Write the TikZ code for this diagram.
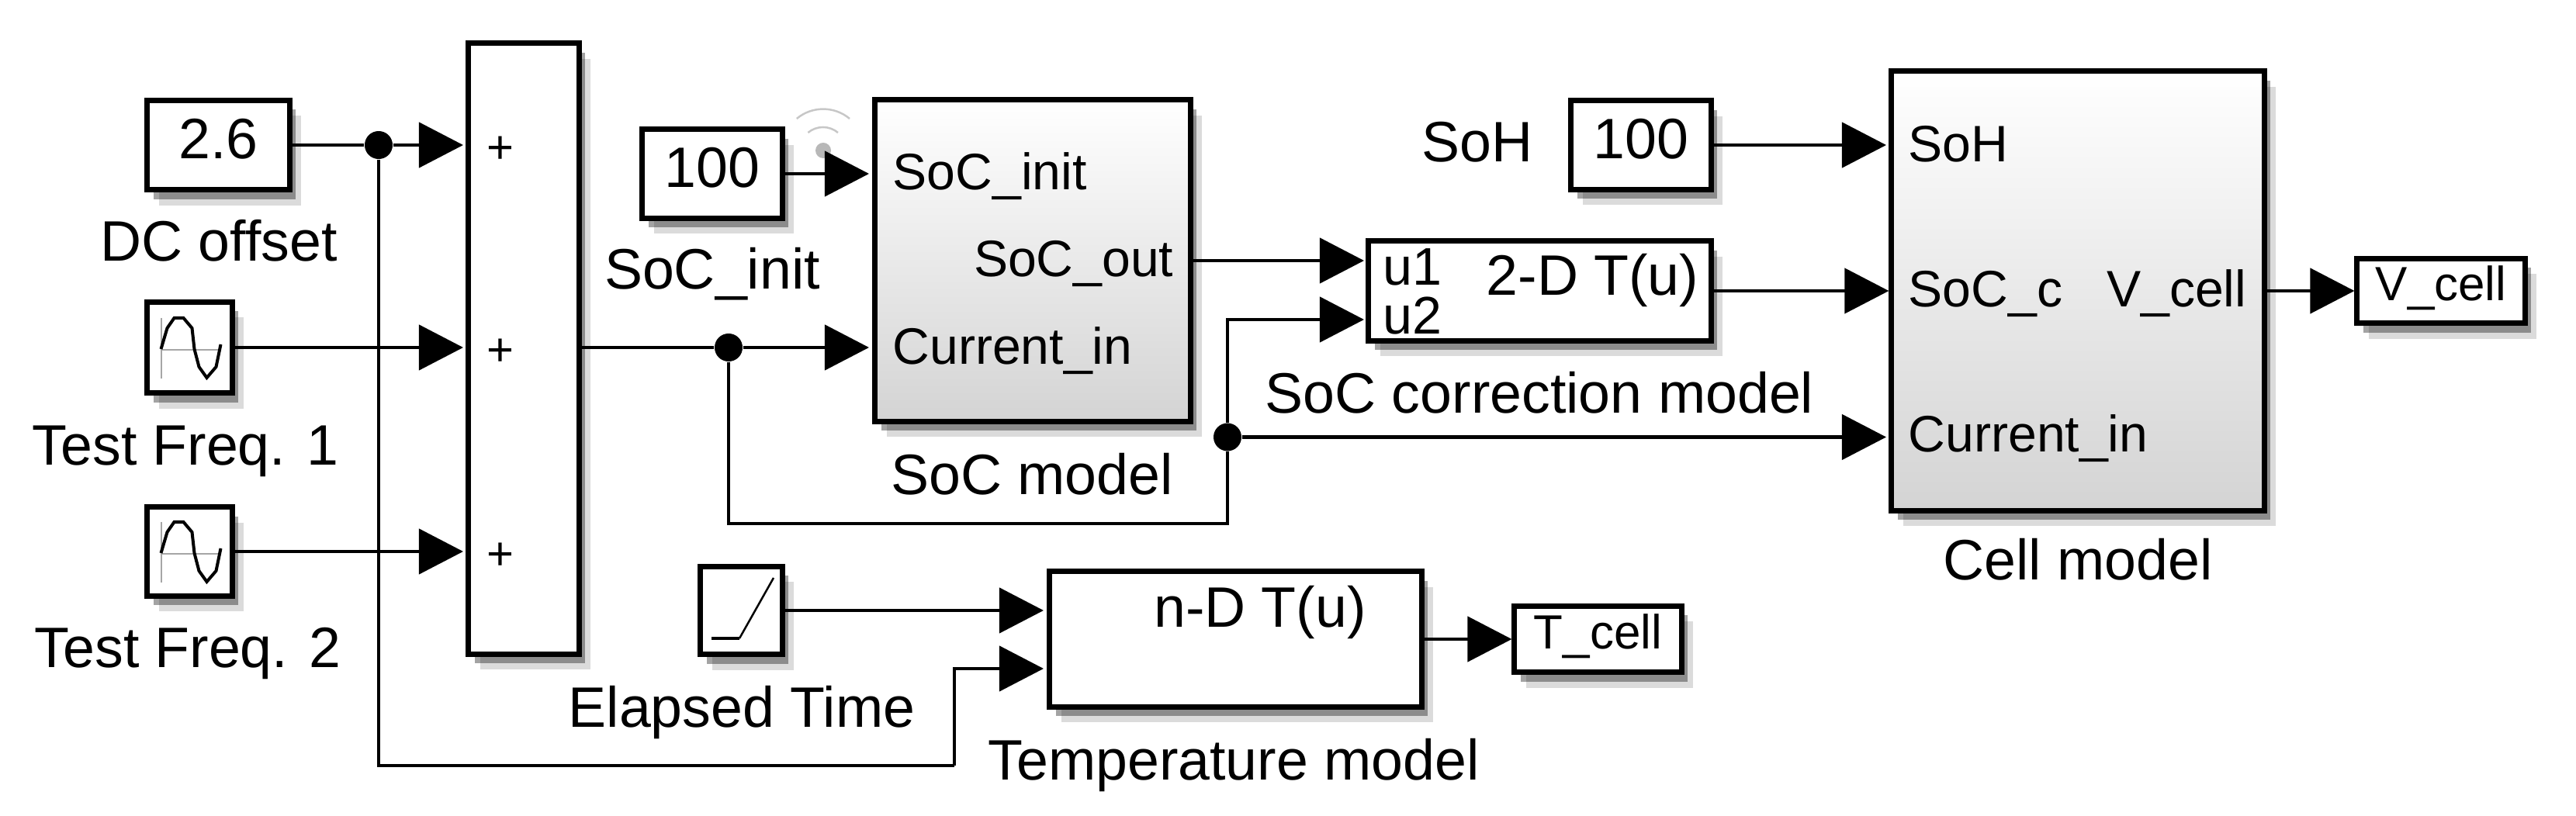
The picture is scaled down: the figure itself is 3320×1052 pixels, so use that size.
\documentclass[tikz,border=0pt]{standalone}
\usepackage{fontspec}
\setmainfont{Liberation Sans}
\usetikzlibrary{arrows.meta,shadows}
\tikzset{
  blk/.style={draw,line width=.07cm,fill=white,inner sep=0,
    drop shadow={shadow xshift=.15cm,shadow yshift=-.2cm,opacity=.14,fill=black},
    drop shadow={shadow xshift=.08cm,shadow yshift=-.12cm,opacity=.36,fill=black}},
  grad/.style={blk,top color=white,middle color=black!4,bottom color=black!17},
  numtxt/.style={text depth=.17cm,font=\fontsize{20.9}{25}\selectfont},
  smalltxt/.style={text depth=.19cm,font=\fontsize{17.6}{21}\selectfont},
  lbl/.style={anchor=base,inner sep=0,font=\fontsize{20.9}{25}\selectfont},
  portl/.style={lbl,anchor=base west,font=\fontsize{18.8}{23}\selectfont},
  portr/.style={lbl,anchor=base east,font=\fontsize{18.8}{23}\selectfont},
  portu/.style={lbl,anchor=base west,font=\fontsize{19.4}{23}\selectfont},
  plusl/.style={inner sep=0,font=\fontsize{17}{20}\selectfont},
  junction/.style={circle,fill=black,minimum size=.36cm,inner sep=0},
  wire/.style={line width=.045cm},
  sig/.style={wire,-{Triangle[length=.57cm,width=.58cm]}},
  sinewave/.pic={
    \draw[black!35,line width=.02cm] (-37,-38) -- (-37,40) (-37,3) -- (40,3);
    \draw[line width=.04cm] (-37,2) -- (-29,-25) -- (-20,-38) -- (-8,-38) -- (3,-25) -- (6,2) -- (12,25) -- (22,39) -- (34,25) -- (40,-4);
  }
}
\begin{document}
\begin{tikzpicture}[x=.01cm,y=-.01cm]
\useasboundingbox (0,0) rectangle (3320,1052);
% source blocks
\node[blk,numtxt,minimum width=1.83cm,minimum height=1.15cm] (dc) at (281.5,187) {2.6};
\node[blk,minimum width=1.09cm,minimum height=1.17cm] (sine1) at (244.5,448) {};
\node[blk,minimum width=1.09cm,minimum height=1.14cm] (sine2) at (244.5,711) {};
\pic at (sine1) {sinewave};
\pic at (sine2) {sinewave};
\node[lbl] (dclbl) at (282,337) {DC offset};
\node[lbl] (f1lbl) at (239,600) {Test Freq. 1};
\node[lbl] (f2lbl) at (242,860) {Test Freq. 2};
% sum
\node[blk,minimum width=1.42cm,minimum height=7.87cm] (sum) at (675,449.5) {};
\node[plusl] (p1) at (645,193) {+};
\node[plusl] (p2) at (645,454) {+};
\node[plusl] (p3) at (645,717) {+};
% SoC model
\node[blk,numtxt,minimum width=1.80cm,minimum height=1.14cm] (socinit) at (918,224) {100};
\node[lbl] (socinitlbl) at (918,373) {SoC\_init};
\node[grad,minimum width=4.06cm,minimum height=4.14cm] (soc) at (1331,336) {};
\node[portl] (socp1) at (1150,245) {SoC\_init};
\node[portr] (socp2) at (1513,357) {SoC\_out};
\node[portl] (socp3) at (1150,470) {Current\_in};
\node[lbl] (soclbl) at (1330,637) {SoC model};
% signal icon
\draw[black!22,line width=.025cm] (1095,153) arc[start angle=50,end angle=130,radius=.53cm];
\draw[black!22,line width=.025cm] (1080,171) arc[start angle=50,end angle=130,radius=.30cm];
\fill[black!28] (1061,194) circle (.1cm);
% SoC correction
\node[blk,minimum width=4.41cm,minimum height=1.28cm] (corr) at (1984.5,375) {};
\node[portu] (u1) at (1782,368) {u1};
\node[portu] (u2) at (1782,431) {u2};
\node[lbl,anchor=base west] (corrt) at (1915,381) {2-D T(u)};
\node[lbl] (corrlbl) at (1984,533) {SoC correction model};
% cell model
\node[lbl] (sohlbl) at (1904,209) {SoH};
\node[blk,numtxt,minimum width=1.80cm,minimum height=1.14cm] (soh) at (2115,187) {100};
\node[grad,minimum width=4.80cm,minimum height=5.66cm] (cell) at (2678,375) {};
\node[portl] (cellp1) at (2459,209) {SoH};
\node[portl] (cellp2) at (2459,396) {SoC\_c};
\node[portr] (cellp3) at (2896,396) {V\_cell};
\node[portl] (cellp4) at (2459,583) {Current\_in};
\node[lbl] (celllbl) at (2678,747) {Cell model};
\node[blk,smalltxt,minimum width=2.16cm,minimum height=.83cm] (vcell) at (3146,375) {V\_cell};
% temperature
\node[blk,minimum width=1.05cm,minimum height=1.13cm] (ramp) at (955.5,787) {};
\draw[line width=.045cm] (917,823) -- (953,823);
\draw[line width=.025cm] (953,823) -- (997,745);
\node[lbl] (ramplbl) at (956,937) {Elapsed Time};
\node[blk,minimum width=4.79cm,minimum height=1.74cm] (temp) at (1592.5,824) {};
\node[lbl] (tempt) at (1624,808) {n-D T(u)};
\node[lbl] (templbl) at (1590,1005) {Temperature model};
\node[blk,smalltxt,minimum width=2.15cm,minimum height=.85cm] (tcell) at (2059.5,824) {T\_cell};
% ports, bends
\coordinate (in1) at (597,187);
\coordinate (in2) at (597,448);
\coordinate (in3) at (597,711);
\coordinate (socin1) at (1120,224);
\coordinate (socin2) at (1120,448);
\coordinate (corrin1) at (1758,336);
\coordinate (corrin2) at (1758,412);
\coordinate (cellin1) at (2431,187);
\coordinate (cellin3) at (2431,563.5);
\coordinate (tempin1) at (1345,787);
\coordinate (tempin2) at (1345,862);
\coordinate (bendt) at (1230,987);
\coordinate (bendc) at (1582,675);
\node[junction] (j1) at (488,187) {};
\node[junction] (j2) at (939,448) {};
\node[junction] (j3) at (1582,563.5) {};
% wires
\draw[wire] (dc) -- (j1);\draw[sig] (j1) -- (in1);
\draw[sig] (sine1) -- (in2);
\draw[sig] (sine2) -- (in3);
\draw[wire] (sum.east |- j2) -- (j2);\draw[sig] (j2) -- (socin2);
\draw[sig] (socinit) -- (socin1);
\draw[sig] (soc) -- (corrin1);
\draw[wire] (j2) |- (bendc) -- (j3);
\draw[sig] (j3) |- (corrin2);
\draw[sig] (j3) -- (cellin3);
\draw[sig] (soh) -- (cellin1);
\draw[sig] (corr) -- (cell);
\draw[sig] (cell) -- (vcell);
\draw[sig] (ramp) -- (tempin1);
\draw[wire] (j1) |- (bendt);
\draw[sig] (bendt) |- (tempin2);
\draw[sig] (temp) -- (tcell);
\end{tikzpicture}
\end{document}
